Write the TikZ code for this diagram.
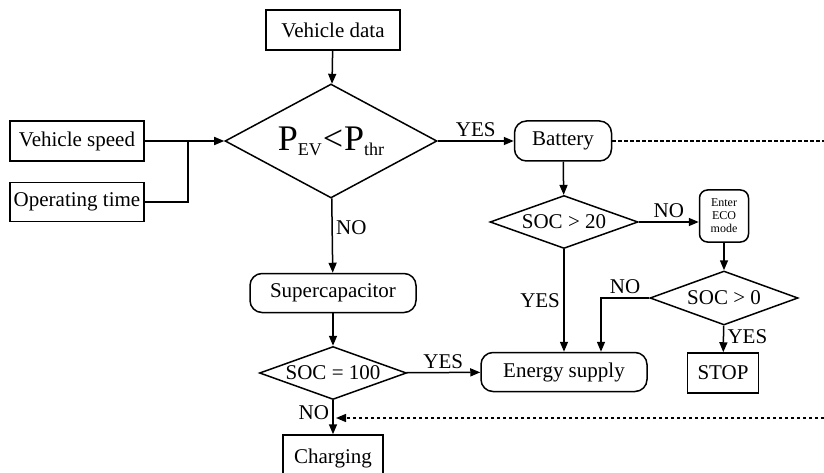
\documentclass[tikz,border=0pt]{standalone}
\usepackage{fontspec}
\setmainfont{Liberation Serif}
\usetikzlibrary{shapes.geometric,arrows.meta}

\newcommand{\lowsub}[1]{\raisebox{-5pt}{\fontsize{18}{18}\selectfont #1}}

\begin{document}
\begin{tikzpicture}[x=1pt, y=-1pt, line width=1.5pt, font=\fontsize{21}{24}\selectfont,
  box/.style={draw, rectangle, inner sep=0pt, minimum height=40pt},
  rbox/.style={draw, rectangle, rounded corners=12pt, inner sep=0pt, minimum height=40pt},
  dia/.style={draw, diamond, inner sep=0pt, aspect=2.8},
  arr/.style={-{Triangle[length=10pt,width=8pt]}},
  fb/.style={line width=1.3pt, dash pattern=on 3.5pt off 2.5pt}]

\useasboundingbox (0,0) rectangle (824,473);

%% blocks
\path
(333,30) node[box, minimum width=134pt](data){Vehicle data}
(77,141) node[box, minimum width=134pt](speed){Vehicle speed}
(77,202) node[box, minimum width=134pt, minimum height=39pt](time){Operating time}
(331,141) node[dia, aspect=1.86, minimum width=212pt, minimum height=114pt](pev)
  {\fontsize{36}{38}\selectfont P\lowsub{EV}\kern1pt<\kern1pt P\lowsub{thr}}
(563,141) node[rbox, minimum width=97pt](bat){Battery}
(564,222) node[dia, minimum width=148pt, minimum height=53pt](soc20){SOC > 20}
(724,216) node[rbox, rounded corners=8pt, minimum width=49pt, minimum height=52pt,
  align=center, font=\fontsize{12}{13}\selectfont](eco){Enter\\ECO\\mode}
(724,298) node[dia, minimum width=148pt, minimum height=54pt](soc0){SOC > 0}
(723,373) node[box, minimum width=71pt](stop){STOP}
(564,372) node[rbox, minimum width=166pt, minimum height=39pt](supply){Energy supply}
(333,293) node[rbox, minimum width=166pt, minimum height=39pt](cap){Supercapacitor}
(333,373) node[dia, minimum width=147pt, minimum height=53pt](soc100){SOC = 100}
(333,458) node[box, minimum width=100pt, minimum height=46pt](chg){Charging};

\path (188,141) coordinate (join)
(824,141) coordinate (batout)
(824,418) coordinate (fbin)
(336,418) coordinate (fbend);

%% inputs
\draw[arr] (data) -- (pev);
\draw[arr] (speed) -- (pev);
\draw (time.east) -| (join);

%% battery branch
\draw[arr] (pev) -- node[above]{YES} (bat);
\draw[fb] (bat) -- (batout);
\draw[arr] (bat) -- (soc20);
\draw[arr] (soc20.east) -- node[above]{NO} (soc20.east -| eco.west);
\draw[arr] (eco) -- (soc0);
\draw[arr] (soc0) -- node[right, pos=0.4]{YES} (stop);
\draw[arr] (soc0.west) -| node[pos=0.25, above]{NO} ([xshift=37pt]supply.north);
\draw[arr] (soc20) -- node[left]{YES} (supply);

%% supercapacitor branch
\draw[arr] (pev) -- node[right, pos=0.4]{NO} (cap);
\draw[arr] (cap) -- (soc100);
\draw[arr] (soc100) -- node[above]{YES} (supply);
\draw[arr] (soc100) -- node[left, pos=0.35]{NO} (chg);
\draw[fb, arr] (fbin) -- (fbend);

\end{tikzpicture}
\end{document}
